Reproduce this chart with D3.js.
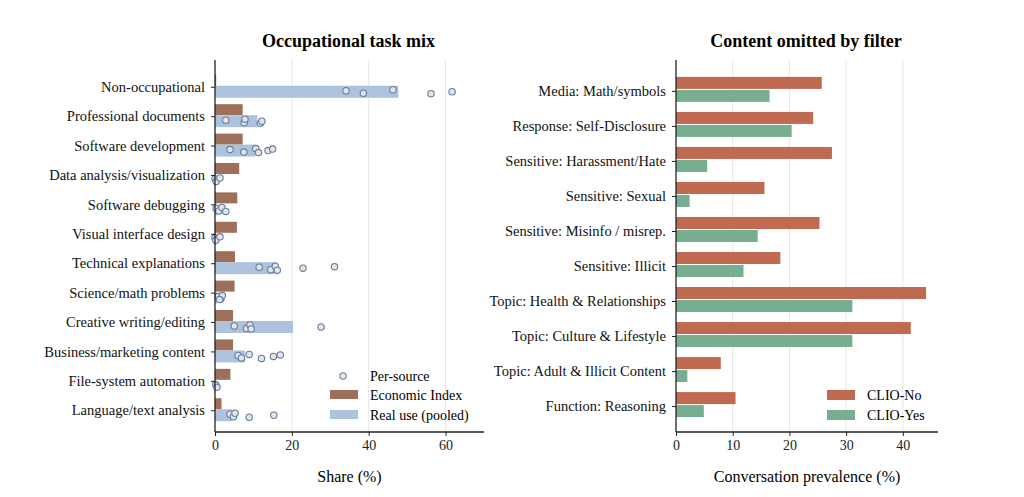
<html>
<head>
<meta charset="utf-8">
<script src="https://d3js.org/d3.v7.min.js"></script>
<style>
body { margin:0; background:#fff; font-family:"Liberation Serif","DejaVu Serif",serif; }
text { font-family:"Liberation Serif","DejaVu Serif",serif; }
</style>
</head>
<body>
<div id="chart"></div>
<script>
// left panel data
var tasks = ["Non-occupational","Professional documents","Software development","Data analysis/visualization",
  "Software debugging","Visual interface design","Technical explanations","Science/math problems",
  "Creative writing/editing","Business/marketing content","File-system automation","Language/text analysis"];
var econIndex = [0.3, 7.2, 7.2, 6.3, 5.8, 5.7, 5.2, 5.1, 4.7, 4.7, 4.0, 1.7];
var realUse = [47.7, 11.0, 10.5, 0.3, 0.5, 0.3, 16.0, 0.5, 20.3, 7.8, 0.3, 4.5];
var perSource = [
  [34.1, 38.6, 46.3, 56.2, 61.7],
  [2.8, 7.6, 7.8, 11.8, 12.2],
  [3.9, 7.5, 10.6, 11.3, 13.8, 15.0],
  [0.0, 0.3, 1.3],
  [0.3, 1.0, 1.8, 2.8],
  [0.0, 0.2, 1.3],
  [11.5, 14.5, 15.7, 16.2, 22.9, 31.1],
  [0.8, 1.5, 1.9, 1.2],
  [5.0, 8.2, 9.1, 9.4, 27.6],
  [6.0, 6.9, 8.9, 12.1, 15.2, 17.0],
  [0.2, 0.5],
  [3.9, 4.8, 5.2, 8.9, 15.3]
];
var leftTicks = [0, 20, 40, 60];

// right panel data
var contentCats = ["Media: Math/symbols","Response: Self-Disclosure","Sensitive: Harassment/Hate","Sensitive: Sexual",
  "Sensitive: Misinfo / misrep.","Sensitive: Illicit","Topic: Health & Relationships","Topic: Culture & Lifestyle",
  "Topic: Adult & Illicit Content","Function: Reasoning"];
var clioNo = [25.7, 24.2, 27.5, 15.6, 25.3, 18.4, 44.1, 41.4, 7.9, 10.5];
var clioYes = [16.5, 20.4, 5.5, 2.4, 14.4, 11.9, 31.1, 31.1, 2.0, 4.9];
var rightTicks = [0, 10, 20, 30, 40];

var W = 1024, H = 497, plotTop = 65, plotBottom = 432;
var svg = d3.select("#chart").append("svg").attr("width", W).attr("height", H);

function panel(x0, x1, xmax, ticks, cats, title, xlabel) {
  var x = d3.scaleLinear().domain([0, xmax]).range([x0, x1]);
  var y = d3.scalePoint().domain(cats).range([plotTop, plotBottom]).padding(0.74);
  var g = svg.append("g");
  g.selectAll(".grid").data(ticks.filter(function(t){return t>0;})).enter().append("line")
    .attr("x1", function(d){return x(d);}).attr("x2", function(d){return x(d);})
    .attr("y1", plotTop - 5).attr("y2", plotBottom).attr("stroke", "#e6e6e6").attr("stroke-width", 1);
  svg.append("text").attr("x", (x0 + x1) / 2 - 1).attr("y", 47).attr("text-anchor", "middle")
    .style("font-size", "18px").style("font-weight", "bold").text(title);
  svg.append("text").attr("x", (x0 + x1) / 2).attr("y", 482).attr("text-anchor", "middle")
    .style("font-size", "16px").text(xlabel);
  return {x: x, y: y, g: g};
}

function axes(p, ticks) {
  var xa = svg.append("g").attr("transform", "translate(0," + plotBottom + ")")
    .call(d3.axisBottom(p.x).tickValues(ticks).tickSize(4).tickPadding(4));
  xa.selectAll("text").style("font-size", "14px").attr("fill", "#222");
  var ya = svg.append("g").attr("transform", "translate(" + p.x(0) + ",0)")
    .call(d3.axisLeft(p.y).tickSize(4).tickPadding(6));
  ya.selectAll("text").style("font-size", "14.5px").attr("fill", "#111");
  [xa, ya].forEach(function(a){
    a.select(".domain").attr("stroke", "#222").attr("stroke-width", 1.3);
    a.selectAll(".tick line").attr("stroke", "#222");
  });
  ya.select(".domain").attr("d", "M0," + (plotTop - 5) + "V" + plotBottom);
  xa.select(".domain").attr("d", "M" + p.x.range()[0] + ",0H" + p.x.range()[1]);
}

// left
var L = panel(215, 484, 70, leftTicks, tasks, "Occupational task mix", "Share (%)");
L.g.selectAll(".econ").data(tasks).enter().append("rect")
  .attr("x", L.x(0)).attr("y", function(d){return L.y(d) - 12;})
  .attr("width", function(d,i){return L.x(econIndex[i]) - L.x(0);}).attr("height", 11)
  .attr("fill", "#9e705a");
L.g.selectAll(".real").data(tasks).enter().append("rect")
  .attr("x", L.x(0)).attr("y", function(d){return L.y(d) - 1;})
  .attr("width", function(d,i){return L.x(realUse[i]) - L.x(0);}).attr("height", 12)
  .attr("fill", "#adc2dc");
var jit = [-1, 1.5, -2, 2, 0, -1.5];
tasks.forEach(function(t, i) {
  L.g.selectAll(".dot" + i).data(perSource[i]).enter().append("circle")
    .attr("cx", function(d){return L.x(d);})
    .attr("cy", function(d,j){return L.y(t) + 5 + jit[j % jit.length];})
    .attr("r", 3.2).attr("fill", "#ece2d6").attr("stroke", "#5a7fb3").attr("stroke-width", 1.1);
});
axes(L, leftTicks);
var lg = svg.append("g");
lg.append("circle").attr("cx", 343).attr("cy", 376).attr("r", 3.2).attr("fill", "#ece2d6").attr("stroke", "#5a7fb3").attr("stroke-width", 1.1);
lg.append("rect").attr("x", 330).attr("y", 390).attr("width", 28).attr("height", 9).attr("fill", "#9e705a");
lg.append("rect").attr("x", 330).attr("y", 410).attr("width", 28).attr("height", 9).attr("fill", "#adc2dc");
[["Per-source", 381], ["Economic Index", 400], ["Real use (pooled)", 420]].forEach(function(d){
  lg.append("text").attr("x", 370).attr("y", d[1]).style("font-size", "14px").text(d[0]);
});

// right
var R = panel(676, 938, 46.2, rightTicks, contentCats, "Content omitted by filter", "Conversation prevalence (%)");
R.g.selectAll(".no").data(contentCats).enter().append("rect")
  .attr("x", R.x(0)).attr("y", function(d){return R.y(d) - 14;})
  .attr("width", function(d,i){return R.x(clioNo[i]) - R.x(0);}).attr("height", 12)
  .attr("fill", "#c06a52");
R.g.selectAll(".yes").data(contentCats).enter().append("rect")
  .attr("x", R.x(0)).attr("y", function(d){return R.y(d) - 1;})
  .attr("width", function(d,i){return R.x(clioYes[i]) - R.x(0);}).attr("height", 12)
  .attr("fill", "#77ae8f");
axes(R, rightTicks);
var rg = svg.append("g");
rg.append("rect").attr("x", 827).attr("y", 390).attr("width", 28).attr("height", 10).attr("fill", "#c06a52");
rg.append("rect").attr("x", 827).attr("y", 410).attr("width", 28).attr("height", 10).attr("fill", "#77ae8f");
[["CLIO-No", 400], ["CLIO-Yes", 420]].forEach(function(d){
  rg.append("text").attr("x", 867).attr("y", d[1]).style("font-size", "14px").text(d[0]);
});
</script>
</body>
</html>
